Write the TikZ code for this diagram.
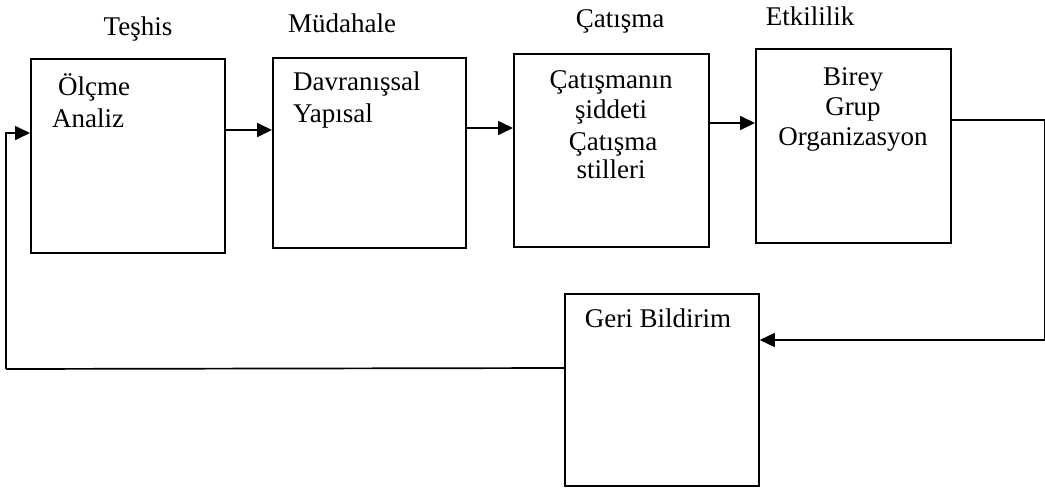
\documentclass[tikz,border=0pt]{standalone}
\usepackage{fontspec}
\setmainfont{Liberation Serif}
\usetikzlibrary{arrows.meta}
\begin{document}
\begin{tikzpicture}[x=1pt,y=-1pt,
  box/.style={draw, line width=1.8pt, inner sep=0pt, anchor=north west},
  txt/.style={anchor=base, inner sep=0pt, font=\fontsize{27}{30}\selectfont},
  ltxt/.style={anchor=base west, inner sep=0pt, font=\fontsize{27}{30}\selectfont},
  conn/.style={line width=1.7pt},
  arr/.style={conn, -{Triangle[length=15pt,width=14pt]}}]
\useasboundingbox (0,0) rectangle (1045,488);
% boxes
\node[box, minimum width=194pt, minimum height=194pt] (b1) at (30,58) {};
\node[box, minimum width=193pt, minimum height=190pt] (b2) at (272,57) {};
\node[box, minimum width=195pt, minimum height=193pt] (b3) at (513,53) {};
\node[box, minimum width=195pt, minimum height=194pt] (b4) at (755,48) {};
\node[box, minimum width=194pt, minimum height=192pt] (b5) at (564,293) {};
% titles
\node[txt] (t1) at (138,35) {Teşhis};
\node[txt] (t2) at (342,32) {Müdahale};
\node[txt] (t3) at (620,27) {Çatışma};
\node[txt] (t4) at (810,25) {Etkililik};
% box texts
\node[ltxt] (a1) at (58,95) {Ölçme};
\node[ltxt] (a2) at (52,127) {Analiz};
\node[ltxt] (c1) at (293,90) {Davranışsal};
\node[ltxt] (c2) at (293,122) {Yapısal};
\node[txt] (d1) at (611,88) {Çatışmanın};
\node[txt] (d2) at (611,118) {şiddeti};
\node[txt] (d3) at (613,150) {Çatışma};
\node[txt] (d4) at (611,178) {stilleri};
\node[txt] (e1) at (853,85) {Birey};
\node[txt] (e2) at (853,115) {Grup};
\node[txt] (e3) at (853,145) {Organizasyon};
\node[txt] (g1) at (658,327) {Geri Bildirim};
% helper coordinates
\coordinate (y12) at (0,130);
\coordinate (y23) at (0,128);
\coordinate (y34) at (0,123);
\coordinate (y4o) at (0,120);
\coordinate (rt) at (1045,120);
\coordinate (rb) at (1045,340);
\coordinate (y5in) at (0,340);
\coordinate (y5out) at (0,368);
\coordinate (lb) at (6,369);
\coordinate (lt) at (6,133);
% connectors
\draw[arr] (b1.east |- y12) -- (b2.west |- y12);
\draw[arr] (b2.east |- y23) -- (b3.west |- y23);
\draw[arr] (b3.east |- y34) -- (b4.west |- y34);
\draw[conn] (b4.east |- y4o) -- (rt) -- (rb);
\draw[arr] (rb) -- (b5.east |- y5in);
\draw[conn] (b5.west |- y5out) -- (lb);
\draw[arr] (lb) -- (lt) -- (b1.west |- lt);
\end{tikzpicture}
\end{document}
